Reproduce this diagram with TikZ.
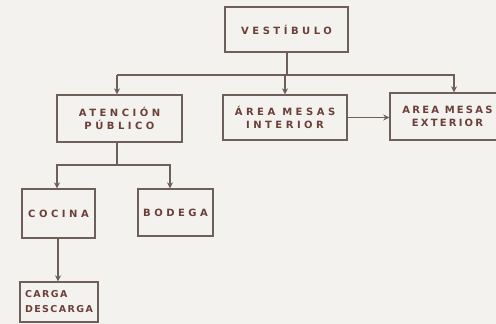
\documentclass[tikz,border=0pt]{standalone}
\usepackage{fontspec}
\setmainfont{DejaVu Sans}
\usetikzlibrary{arrows.meta}
\definecolor{bg}{HTML}{F4F2EE}
\definecolor{ink}{HTML}{6E5F5A}
\definecolor{txt}{HTML}{6A4038}
\tikzset{
  box/.style={draw=ink, line width=1.4pt, rectangle, inner sep=0pt, align=center,
    font=\fontsize{10}{13.5}\selectfont\bfseries\addfontfeatures{LetterSpace=35}, text=txt},
  tight/.style={font=\fontsize{10}{13.5}\selectfont\bfseries\addfontfeatures{LetterSpace=22}},
  tighter/.style={font=\fontsize{9.5}{15}\selectfont\bfseries\addfontfeatures{LetterSpace=15}},
  conn/.style={draw=ink, line width=1.8pt},
  arr/.style={conn, -{Stealth[length=6pt,width=6pt]}}
}
\begin{document}
\begin{tikzpicture}[x=1pt,y=-1pt]
\fill[bg] (0,0) rectangle (496,324);
\clip (0,0) rectangle (496,324);
\useasboundingbox (0,0) rectangle (496,324);
\node[box, minimum width=123pt, minimum height=45pt] (ves) at (286.5,29.5) {VESTÍBULO};
\node[box, minimum width=125pt, minimum height=47pt] (aten) at (119.5,118.5) {ATENCIÓN\\PÚBLICO};
\node[box, minimum width=124pt, minimum height=45pt] (int) at (285,117.5) {ÁREA MESAS\\INTERIOR};
\node[box, tight, minimum width=115pt, minimum height=47pt] (ext) at (447.5,116.5) {AREA MESAS\\EXTERIOR};
\node[box, minimum width=73pt, minimum height=49pt] (coc) at (58.5,213.5) {COCINA};
\node[box, minimum width=75pt, minimum height=47pt] (bod) at (175.5,212.5) {BODEGA};
\node[box, tighter, align=left, minimum width=78pt, minimum height=40pt] (car) at (59,302) {CARGA\\DESCARGA};
\coordinate (j1) at (287,75);
\coordinate (j2) at (117,165);
\draw[conn] (ves.south -| j1) -- (j1);
\draw[conn] (j1) -| (117,75) ;
\draw[arr] (117,75) -- (aten.north -| 117,0);
\draw[arr] (j1) -| (int.north -| 285,0);
\draw[arr] (j1) -| (ext.north -| 454,0);
\draw[conn] (aten.south -| j2) -- (j2);
\draw[arr] (j2) -| (coc.north -| 57,0);
\draw[arr] (j2) -| (bod.north -| 170,0);
\draw[arr] (coc.south -| 58,0) -- (car.north -| 58,0);
\draw[arr] (int.east) -- (int.east -| ext.west);
\end{tikzpicture}
\end{document}
